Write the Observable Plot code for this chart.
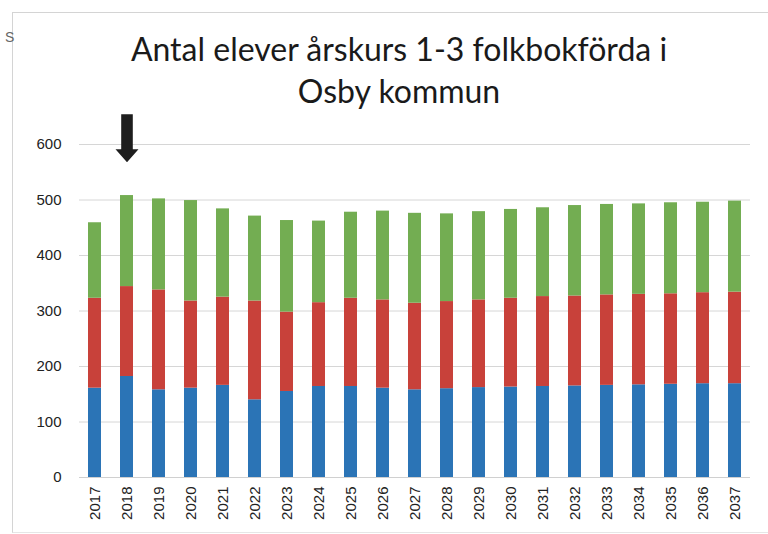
<!DOCTYPE html>
<html>
<head>
<meta charset="utf-8">
<script src="https://cdn.jsdelivr.net/npm/d3@7"></script>
<script src="https://cdn.jsdelivr.net/npm/@observablehq/plot@0.6"></script>
<style>
  html, body { margin: 0; padding: 0; background: #fff; }
  #wrap { position: relative; width: 768px; height: 534px; overflow: hidden; }
  #frame { position: absolute; left: 12px; top: 12px; width: 770px; height: 519px;
           border-top: 1px solid #d4d4d4; border-left: 1px solid #d4d4d4; border-bottom: 1px solid #e6e6e6; }
  #stray { position: absolute; left: 5px; top: 29px;
           font: 14px "Liberation Sans", sans-serif; color: #666; }
  #title { box-sizing: border-box; height: 112px; padding-top: 28px; text-align: center;
           font-family: Lato, "Open Sans", sans-serif; font-size: 32px; line-height: 42px; color: #1a1a1a;
           padding-left: 30px; }
  #chart { position: absolute; left: 0; top: 112px; }
</style>
</head>
<body>
<div id="wrap">
  <div id="frame"></div>
  <div id="stray">S</div>
  <div id="title">Antal elever årskurs 1-3 folkbokförda i<br>Osby kommun</div>
  <div id="chart"></div>
</div>
<script>
const years = ["2017","2018","2019","2020","2021","2022","2023","2024","2025","2026","2027",
               "2028","2029","2030","2031","2032","2033","2034","2035","2036","2037"];
const seriesNames = ["Årskurs 1", "Årskurs 2", "Årskurs 3"];
const ak1 = [161,182,158,161,166,140,155,164,164,161,158,160,162,163,164,165,166,167,168,169,169];
const ak2 = [162,162,180,157,159,178,143,151,159,159,156,157,158,160,162,162,163,163,163,164,165];
const ak3 = [136,164,164,181,159,153,165,147,155,160,162,158,159,160,160,163,163,163,164,163,164];
const seriesColors = ["#2b74b6", "#c8413a", "#73ad52"];
const yTicks = [0, 100, 200, 300, 400, 500, 600];
const arrowYear = "2018";
const arrowTip = 568;

const table = [];
[ak1, ak2, ak3].forEach((vals, s) => {
  years.forEach((yr, i) => table.push({ year: yr, series: seriesNames[s], value: vals[i] }));
});

// custom arrow symbol: tip at origin, pointing down
const arrowSymbol = {
  draw(ctx) {
    const L = 48, head = 13, hw = 11.5, sw = 5.8;
    ctx.moveTo(0, 0);
    ctx.lineTo(-hw, -head);
    ctx.lineTo(-sw, -head);
    ctx.lineTo(-sw, -L);
    ctx.lineTo(sw, -L);
    ctx.lineTo(sw, -head);
    ctx.lineTo(hw, -head);
    ctx.closePath();
  }
};

const chart = Plot.plot({
  width: 768,
  height: 415,
  marginTop: 32,
  marginBottom: 50,
  marginLeft: 79,
  marginRight: 18,
  style: { fontFamily: "'Liberation Sans', Arial, sans-serif", fontSize: "15px", color: "#222", background: "transparent" },
  x: { domain: years, paddingInner: 0.6, paddingOuter: 0.2, label: null, tickSize: 0, tickPadding: 9, tickRotate: -90 },
  y: { domain: [0, 600], ticks: yTicks, label: null, tickSize: 0, tickPadding: 18 },
  color: { domain: seriesNames, range: seriesColors },
  marks: [
    Plot.gridY(yTicks, { stroke: "#d6d6d6", strokeOpacity: 1, strokeWidth: 1 }),
    Plot.barY(table, Plot.stackY({ x: "year", y: "value", fill: "series", order: seriesNames })),
    Plot.ruleY([0], { stroke: "#d0d0d0" }),
    Plot.dot([{ year: arrowYear, y: arrowTip }], { x: "year", y: "y", symbol: arrowSymbol, fill: "#1e1e1e", stroke: "none", r: 5 })
  ]
});
document.getElementById("chart").appendChild(chart);
</script>
</body>
</html>
